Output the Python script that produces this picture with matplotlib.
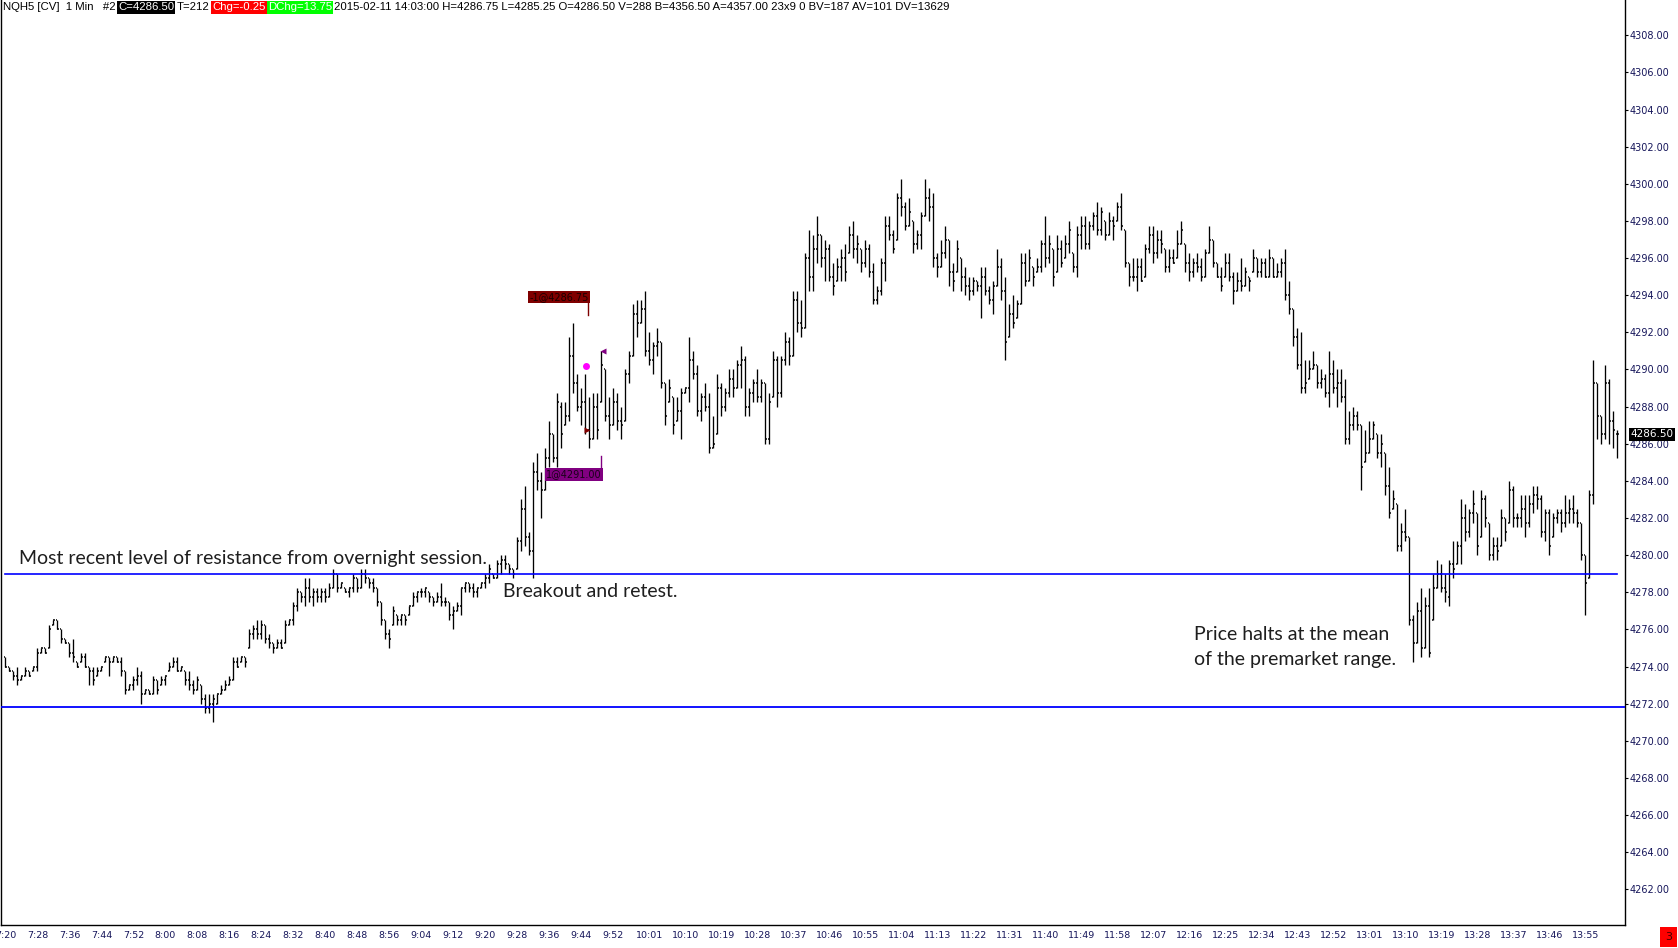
import matplotlib

matplotlib.use("Agg")
import matplotlib.pyplot as plt  # noqa: E402
import matplotlib.transforms as mtransforms  # noqa: E402
import numpy as np  # noqa: E402
from matplotlib import font_manager as fm  # noqa: E402
from matplotlib.collections import LineCollection  # noqa: E402

# ---------------------------------------------------------------- data
# NQH5 1-minute bars, 7:20 .. 14:03 (one bar per minute)
highs = [
    4274.5, 4274.0, 4273.75, 4274.0, 4273.5, 4274.0, 4273.75, 4274.0, 4275.0, 4275.0,
    4275.0, 4276.25, 4276.5, 4276.5, 4276.0, 4275.5, 4275.25, 4275.5, 4274.25, 4274.75,
    4274.75, 4274.0, 4274.0, 4274.0, 4274.0, 4274.5, 4274.5, 4274.5, 4274.5, 4274.5,
    4273.75, 4273.0, 4273.5, 4274.0, 4273.75, 4272.75, 4272.75, 4273.5, 4273.25, 4273.5,
    4273.5, 4274.25, 4274.5, 4274.5, 4274.0, 4273.75, 4273.75, 4273.25, 4273.5, 4273.0,
    4272.5, 4272.5, 4272.5, 4272.5, 4273.0, 4273.25, 4273.5, 4274.5, 4274.5, 4274.5,
    4274.5, 4276.0, 4276.25, 4276.5, 4276.5, 4276.25, 4275.75, 4275.25, 4275.5, 4275.5,
    4276.5, 4276.5, 4277.5, 4278.25, 4278.0, 4278.75, 4278.75, 4278.25, 4278.25, 4278.25,
    4278.25, 4278.5, 4279.25, 4279.0, 4278.5, 4278.25, 4278.25, 4279.0, 4278.75, 4279.25,
    4279.25, 4278.75, 4278.75, 4278.25, 4277.5, 4276.5, 4276.0, 4277.25, 4276.75, 4276.75,
    4276.75, 4277.25, 4278.0, 4278.0, 4278.25, 4278.25, 4278.0, 4277.75, 4278.0, 4278.5,
    4277.75, 4277.5, 4277.25, 4277.5, 4278.25, 4278.5, 4278.5, 4278.5, 4278.25, 4278.5,
    4279.0, 4279.5, 4279.0, 4279.75, 4280.0, 4280.0, 4279.5, 4279.25, 4281.0, 4283.0,
    4283.75, 4281.25, 4285.0, 4285.5, 4284.5, 4285.75, 4287.25, 4286.5, 4288.75, 4288.25,
    4288.25, 4291.75, 4292.5, 4289.75, 4289.0, 4289.75, 4288.5, 4288.75, 4288.75, 4291.0,
    4290.0, 4288.5, 4289.0, 4288.75, 4288.0, 4290.0, 4291.0, 4293.5, 4293.75, 4293.75,
    4294.25, 4292.0, 4291.5, 4292.25, 4291.5, 4289.25, 4289.5, 4288.5, 4288.5, 4289.0,
    4289.0, 4291.75, 4291.0, 4290.25, 4288.75, 4289.25, 4288.75, 4287.5, 4289.75, 4289.25,
    4289.0, 4290.0, 4290.0, 4290.5, 4291.25, 4290.75, 4289.0, 4289.5, 4290.0, 4289.5,
    4289.25, 4288.75, 4291.0, 4290.75, 4290.75, 4292.0, 4291.75, 4294.25, 4294.25, 4293.75,
    4296.25, 4297.5, 4297.25, 4298.25, 4297.25, 4297.0, 4296.75, 4295.75, 4296.0, 4296.5,
    4296.75, 4297.75, 4298.0, 4297.25, 4296.5, 4297.0, 4296.75, 4295.75, 4294.5, 4296.0,
    4298.25, 4298.25, 4297.5, 4299.5, 4300.25, 4299.0, 4299.25, 4298.0, 4297.5, 4298.5,
    4300.25, 4299.75, 4299.5, 4296.25, 4297.0, 4297.75, 4297.0, 4295.75, 4297.0, 4296.0,
    4295.5, 4295.0, 4295.0, 4294.75, 4295.5, 4295.5, 4294.5, 4294.75, 4296.5, 4296.0,
    4295.0, 4293.5, 4294.0, 4293.75, 4296.25, 4296.25, 4296.5, 4295.5, 4296.0, 4297.0,
    4298.25, 4297.25, 4296.5, 4297.25, 4297.0, 4297.25, 4298.0, 4296.25, 4297.75, 4298.25,
    4298.25, 4298.0, 4298.5, 4299.0, 4298.75, 4298.0, 4298.5, 4298.25, 4299.0, 4299.5,
    4297.5, 4295.75, 4296.0, 4296.0, 4296.0, 4296.75, 4297.75, 4297.75, 4297.5, 4297.5,
    4296.5, 4296.5, 4296.5, 4297.5, 4298.0, 4296.75, 4296.25, 4296.0, 4296.25, 4296.0,
    4296.5, 4297.75, 4297.0, 4295.75, 4295.5, 4296.25, 4296.25, 4295.25, 4295.25, 4296.0,
    4295.5, 4295.0, 4296.5, 4296.0, 4296.0, 4296.0, 4296.5, 4296.0, 4295.75, 4296.0,
    4296.5, 4294.75, 4293.25, 4292.25, 4292.0, 4290.5, 4290.5, 4291.0, 4290.25, 4290.0,
    4289.75, 4291.0, 4290.5, 4290.0, 4290.0, 4289.5, 4287.75, 4288.0, 4287.75, 4287.0,
    4286.75, 4287.25, 4287.25, 4286.5, 4286.5, 4285.5, 4284.75, 4283.5, 4282.75, 4281.75,
    4282.5, 4281.0, 4276.75, 4277.5, 4278.25, 4277.75, 4278.25, 4279.0, 4279.75, 4279.5,
    4279.0, 4279.75, 4280.75, 4280.75, 4283.0, 4282.75, 4282.5, 4283.5, 4282.25, 4283.5,
    4283.25, 4281.75, 4281.0, 4281.0, 4282.5, 4282.0, 4284.0, 4283.75, 4282.25, 4283.25,
    4283.25, 4283.25, 4283.75, 4283.75, 4283.25, 4282.5, 4282.5, 4282.25, 4282.5, 4282.5,
    4283.25, 4283.0, 4283.25, 4282.5, 4281.75, 4280.0, 4283.5, 4290.5, 4289.25, 4287.5,
    4290.25, 4289.5, 4287.75, 4286.75,
]
lows = [
    4274.0, 4273.75, 4273.25, 4273.0, 4273.25, 4273.5, 4273.5, 4273.75, 4273.75, 4274.75,
    4274.75, 4275.0, 4276.25, 4276.0, 4275.25, 4275.25, 4274.5, 4274.25, 4274.0, 4274.25,
    4274.0, 4273.0, 4273.0, 4273.5, 4273.75, 4274.25, 4273.5, 4274.25, 4274.25, 4273.5,
    4272.5, 4272.75, 4272.75, 4273.0, 4272.0, 4272.5, 4272.5, 4272.5, 4272.5, 4273.0,
    4273.0, 4273.75, 4274.0, 4273.75, 4273.75, 4273.0, 4272.75, 4272.5, 4272.75, 4272.0,
    4271.5, 4271.5, 4271.0, 4272.0, 4272.5, 4272.75, 4273.0, 4273.25, 4274.0, 4274.25,
    4274.0, 4275.0, 4275.5, 4275.5, 4275.5, 4275.25, 4275.0, 4274.75, 4275.0, 4275.0,
    4275.25, 4276.25, 4276.25, 4277.0, 4277.5, 4277.25, 4277.5, 4277.25, 4277.5, 4277.5,
    4277.5, 4277.75, 4278.25, 4278.0, 4278.25, 4278.0, 4277.75, 4278.0, 4278.0, 4278.25,
    4278.5, 4278.25, 4278.0, 4277.25, 4276.25, 4275.5, 4275.0, 4276.25, 4276.25, 4276.25,
    4276.25, 4276.75, 4277.25, 4277.5, 4277.75, 4277.75, 4277.5, 4277.25, 4277.5, 4277.25,
    4277.25, 4276.5, 4276.0, 4277.0, 4276.75, 4278.0, 4278.0, 4277.75, 4277.75, 4278.25,
    4278.25, 4278.5, 4278.75, 4278.75, 4279.0, 4279.25, 4279.0, 4278.75, 4279.25, 4280.25,
    4280.5, 4280.0, 4278.75, 4283.5, 4282.0, 4283.5, 4284.75, 4285.0, 4284.75, 4285.75,
    4287.0, 4287.25, 4288.75, 4287.75, 4287.0, 4286.5, 4285.75, 4286.25, 4286.25, 4288.25,
    4287.25, 4286.25, 4287.0, 4286.75, 4286.25, 4287.25, 4289.25, 4290.75, 4291.75, 4292.5,
    4290.75, 4290.25, 4289.75, 4290.75, 4289.0, 4287.0, 4288.25, 4286.5, 4287.25, 4286.25,
    4288.75, 4288.25, 4289.5, 4287.5, 4287.25, 4287.75, 4285.5, 4285.75, 4286.5, 4287.5,
    4287.75, 4288.5, 4288.5, 4289.0, 4289.0, 4287.5, 4287.5, 4288.25, 4288.25, 4288.25,
    4286.0, 4286.0, 4288.5, 4288.0, 4288.5, 4290.25, 4290.25, 4290.75, 4292.0, 4291.75,
    4292.25, 4294.25, 4294.25, 4295.75, 4295.5, 4294.75, 4294.75, 4294.0, 4294.75, 4294.75,
    4294.75, 4296.25, 4296.0, 4295.75, 4295.25, 4295.5, 4295.0, 4293.5, 4293.5, 4294.0,
    4294.75, 4297.0, 4296.25, 4297.0, 4298.25, 4297.5, 4297.75, 4296.25, 4296.5, 4296.5,
    4298.25, 4298.0, 4295.5, 4295.0, 4295.5, 4296.0, 4294.5, 4294.25, 4295.25, 4294.25,
    4294.0, 4293.75, 4294.0, 4294.25, 4292.75, 4294.0, 4293.5, 4293.0, 4294.5, 4293.75,
    4290.5, 4291.75, 4292.25, 4292.75, 4293.5, 4294.5, 4294.75, 4294.5, 4295.25, 4295.25,
    4295.5, 4295.75, 4294.5, 4295.25, 4295.5, 4296.0, 4296.25, 4295.25, 4295.0, 4296.5,
    4296.5, 4296.5, 4297.5, 4297.25, 4297.25, 4297.0, 4297.25, 4297.0, 4298.0, 4297.5,
    4295.5, 4294.5, 4294.75, 4294.25, 4294.75, 4295.0, 4296.25, 4295.75, 4296.0, 4296.25,
    4295.25, 4295.25, 4295.75, 4296.0, 4296.75, 4295.25, 4294.75, 4295.0, 4295.25, 4294.75,
    4295.0, 4296.25, 4295.5, 4295.0, 4294.25, 4295.0, 4294.75, 4293.5, 4294.25, 4294.25,
    4294.5, 4294.25, 4295.25, 4295.0, 4295.0, 4295.0, 4295.0, 4295.0, 4295.0, 4295.0,
    4293.75, 4293.0, 4291.25, 4290.0, 4288.75, 4288.75, 4289.5, 4290.0, 4289.0, 4289.0,
    4288.5, 4288.0, 4288.75, 4288.0, 4288.25, 4286.0, 4286.0, 4286.75, 4286.75, 4283.5,
    4285.0, 4285.5, 4286.25, 4285.25, 4284.75, 4283.25, 4282.0, 4282.5, 4280.25, 4280.25,
    4280.75, 4276.25, 4274.25, 4275.25, 4274.5, 4275.0, 4274.5, 4276.5, 4278.25, 4278.0,
    4277.5, 4277.25, 4278.75, 4279.5, 4279.5, 4280.75, 4281.0, 4281.75, 4280.0, 4281.0,
    4281.5, 4279.75, 4279.75, 4279.75, 4280.5, 4280.75, 4281.75, 4281.5, 4281.5, 4281.5,
    4281.0, 4281.5, 4282.25, 4282.5, 4281.0, 4280.75, 4280.0, 4281.0, 4281.75, 4281.25,
    4281.5, 4281.75, 4281.75, 4281.5, 4279.75, 4276.75, 4278.75, 4282.75, 4286.25, 4286.0,
    4286.25, 4286.0, 4285.75, 4285.25,
]
opens = [
    4274.5, 4274.0, 4273.75, 4273.5, 4273.25, 4273.5, 4273.75, 4273.75, 4274.0, 4274.75,
    4275.0, 4275.0, 4276.25, 4276.5, 4276.0, 4275.5, 4275.25, 4274.75, 4274.25, 4274.25,
    4274.5, 4274.0, 4273.75, 4273.5, 4273.75, 4274.25, 4274.5, 4274.25, 4274.5, 4274.25,
    4273.75, 4272.75, 4273.0, 4273.25, 4273.5, 4272.5, 4272.75, 4272.5, 4273.25, 4273.0,
    4273.25, 4273.75, 4274.0, 4274.25, 4273.75, 4273.75, 4273.25, 4273.0, 4272.75, 4273.0,
    4272.25, 4271.75, 4272.0, 4272.0, 4272.5, 4272.75, 4273.0, 4273.25, 4274.25, 4274.25,
    4274.5, 4275.0, 4275.75, 4276.0, 4275.75, 4276.25, 4275.5, 4275.25, 4275.0, 4275.25,
    4275.25, 4276.25, 4276.5, 4277.25, 4278.0, 4277.75, 4278.25, 4277.75, 4278.0, 4277.75,
    4278.0, 4277.75, 4278.25, 4279.0, 4278.25, 4278.25, 4278.0, 4278.25, 4278.75, 4278.25,
    4279.0, 4278.75, 4278.5, 4278.25, 4277.5, 4276.5, 4275.75, 4276.25, 4276.75, 4276.5,
    4276.75, 4276.75, 4277.25, 4277.75, 4278.0, 4278.0, 4278.0, 4277.75, 4277.5, 4277.75,
    4277.5, 4277.5, 4276.75, 4277.0, 4277.25, 4278.25, 4278.5, 4278.25, 4278.0, 4278.25,
    4278.5, 4278.75, 4279.0, 4278.75, 4279.5, 4279.75, 4279.5, 4279.25, 4279.25, 4280.75,
    4282.5, 4281.0, 4280.25, 4284.5, 4284.0, 4283.5, 4285.25, 4286.5, 4285.25, 4288.0,
    4287.0, 4287.5, 4290.75, 4289.25, 4288.0, 4288.25, 4286.75, 4286.25, 4288.0, 4288.25,
    4290.0, 4287.5, 4287.0, 4288.25, 4287.25, 4287.25, 4289.75, 4290.75, 4293.0, 4292.5,
    4293.25, 4291.0, 4290.5, 4291.25, 4291.5, 4289.25, 4288.25, 4288.5, 4287.25, 4287.75,
    4288.75, 4289.0, 4290.5, 4289.75, 4287.75, 4288.5, 4288.0, 4285.75, 4286.5, 4289.0,
    4288.0, 4288.75, 4289.5, 4289.0, 4290.25, 4290.5, 4288.0, 4288.75, 4289.25, 4288.5,
    4289.25, 4286.25, 4288.5, 4290.5, 4288.75, 4290.5, 4291.5, 4290.75, 4293.75, 4292.5,
    4292.25, 4296.0, 4295.0, 4296.5, 4297.25, 4296.0, 4296.5, 4295.0, 4294.75, 4295.5,
    4296.0, 4296.25, 4297.25, 4296.5, 4296.5, 4295.75, 4296.5, 4295.25, 4293.75, 4294.25,
    4295.75, 4297.75, 4297.25, 4297.0, 4299.25, 4298.75, 4297.75, 4298.0, 4296.75, 4297.25,
    4298.25, 4299.25, 4298.75, 4296.0, 4295.5, 4296.25, 4297.0, 4295.25, 4295.25, 4296.0,
    4295.0, 4294.5, 4294.25, 4294.75, 4294.5, 4295.0, 4294.25, 4293.75, 4294.5, 4295.5,
    4294.25, 4291.75, 4293.0, 4292.75, 4293.5, 4295.75, 4294.75, 4295.5, 4295.25, 4295.5,
    4296.75, 4296.0, 4296.5, 4295.25, 4296.5, 4296.0, 4296.75, 4296.25, 4295.5, 4297.25,
    4297.75, 4296.75, 4297.75, 4298.25, 4297.5, 4298.0, 4297.25, 4298.0, 4298.0, 4298.75,
    4297.5, 4295.75, 4295.0, 4295.0, 4295.5, 4295.0, 4296.5, 4297.25, 4296.25, 4297.0,
    4296.5, 4295.5, 4296.0, 4296.0, 4296.75, 4296.75, 4295.75, 4295.25, 4295.75, 4295.5,
    4295.0, 4296.25, 4297.0, 4295.75, 4295.0, 4295.0, 4295.75, 4295.0, 4294.25, 4294.75,
    4294.5, 4295.0, 4295.25, 4296.0, 4295.25, 4295.75, 4295.0, 4296.0, 4295.0, 4295.25,
    4295.75, 4294.0, 4293.25, 4291.75, 4290.25, 4289.0, 4289.5, 4290.0, 4290.25, 4289.25,
    4289.5, 4288.75, 4289.75, 4289.0, 4289.25, 4288.5, 4286.25, 4287.0, 4287.5, 4287.0,
    4285.0, 4285.5, 4286.25, 4286.5, 4285.5, 4285.5, 4283.75, 4282.5, 4282.75, 4280.5,
    4281.25, 4281.0, 4276.5, 4275.25, 4277.0, 4275.0, 4277.25, 4276.5, 4278.25, 4279.0,
    4278.25, 4277.75, 4279.5, 4279.5, 4280.5, 4282.0, 4281.25, 4282.25, 4282.25, 4281.0,
    4283.0, 4281.75, 4280.0, 4280.5, 4280.5, 4282.0, 4281.75, 4283.5, 4282.0, 4282.0,
    4282.5, 4281.75, 4282.75, 4283.25, 4283.0, 4281.25, 4282.25, 4281.0, 4282.0, 4282.25,
    4281.75, 4282.25, 4282.5, 4282.25, 4281.75, 4280.0, 4278.75, 4283.25, 4289.25, 4287.5,
    4286.5, 4289.25, 4287.25, 4286.5,
]
closes = [
    4274.0, 4273.75, 4273.5, 4273.25, 4273.5, 4273.75, 4273.5, 4274.0, 4274.75, 4275.0,
    4274.75, 4276.0, 4276.5, 4276.0, 4275.5, 4275.25, 4274.75, 4274.5, 4274.0, 4274.5,
    4274.0, 4273.75, 4273.25, 4273.75, 4274.0, 4274.5, 4274.25, 4274.5, 4274.25, 4273.75,
    4272.75, 4273.0, 4273.25, 4273.5, 4272.5, 4272.75, 4272.5, 4273.25, 4272.75, 4273.25,
    4273.5, 4274.0, 4274.25, 4273.75, 4274.0, 4273.25, 4273.0, 4272.75, 4273.25, 4272.25,
    4271.75, 4272.0, 4272.25, 4272.5, 4272.75, 4273.0, 4273.25, 4274.25, 4274.0, 4274.5,
    4274.25, 4275.75, 4276.0, 4275.75, 4276.25, 4275.5, 4275.25, 4275.0, 4275.25, 4275.0,
    4276.25, 4276.5, 4277.25, 4278.0, 4277.75, 4278.25, 4277.75, 4278.0, 4277.75, 4278.0,
    4277.75, 4278.25, 4279.0, 4278.25, 4278.5, 4278.0, 4278.25, 4278.75, 4278.25, 4279.0,
    4278.75, 4278.5, 4278.25, 4277.5, 4276.5, 4275.75, 4275.5, 4277.0, 4276.5, 4276.75,
    4276.5, 4277.25, 4277.75, 4278.0, 4278.0, 4278.25, 4277.75, 4277.5, 4277.75, 4277.5,
    4277.5, 4276.75, 4277.0, 4277.25, 4278.25, 4278.5, 4278.25, 4278.0, 4278.25, 4278.5,
    4278.75, 4279.25, 4278.75, 4279.5, 4279.75, 4279.5, 4279.25, 4279.0, 4280.75, 4282.5,
    4281.0, 4280.25, 4284.5, 4284.0, 4283.5, 4285.25, 4286.5, 4285.25, 4288.25, 4286.5,
    4287.5, 4290.75, 4289.25, 4288.0, 4288.25, 4286.75, 4286.25, 4288.0, 4286.75, 4290.25,
    4287.5, 4287.0, 4288.25, 4287.25, 4287.0, 4289.75, 4290.75, 4293.0, 4292.5, 4293.25,
    4291.0, 4290.5, 4291.25, 4291.5, 4289.25, 4287.5, 4289.0, 4287.0, 4287.75, 4288.75,
    4289.0, 4290.5, 4289.75, 4287.75, 4288.5, 4288.0, 4285.75, 4286.0, 4289.0, 4288.0,
    4288.75, 4289.5, 4289.0, 4290.25, 4290.5, 4288.0, 4288.75, 4289.25, 4288.5, 4289.25,
    4286.25, 4288.25, 4290.5, 4288.75, 4290.5, 4291.5, 4290.75, 4293.75, 4292.5, 4292.25,
    4296.0, 4295.0, 4296.5, 4297.25, 4296.0, 4296.5, 4295.0, 4294.5, 4295.5, 4296.0,
    4295.25, 4297.25, 4296.5, 4296.75, 4295.75, 4296.5, 4295.25, 4293.75, 4294.25, 4295.75,
    4297.75, 4297.25, 4296.5, 4299.25, 4298.75, 4297.75, 4298.5, 4296.75, 4297.25, 4298.25,
    4299.25, 4298.75, 4296.0, 4295.5, 4296.25, 4297.0, 4295.25, 4294.75, 4296.5, 4295.0,
    4294.5, 4294.25, 4294.75, 4294.5, 4295.0, 4294.25, 4293.75, 4294.5, 4295.5, 4294.25,
    4291.5, 4293.0, 4292.5, 4293.5, 4295.75, 4294.75, 4296.0, 4295.0, 4295.5, 4296.75,
    4296.0, 4296.75, 4295.0, 4296.5, 4295.75, 4296.75, 4297.5, 4295.5, 4297.25, 4297.75,
    4296.75, 4297.75, 4298.25, 4297.5, 4298.5, 4297.25, 4298.0, 4297.75, 4298.75, 4297.75,
    4295.75, 4295.0, 4295.0, 4295.5, 4294.75, 4296.5, 4297.25, 4296.25, 4297.0, 4296.75,
    4295.5, 4296.0, 4295.75, 4296.75, 4297.5, 4295.75, 4295.25, 4295.75, 4295.5, 4295.0,
    4296.25, 4297.0, 4295.75, 4295.0, 4294.5, 4295.75, 4295.0, 4294.25, 4294.75, 4294.5,
    4295.25, 4294.75, 4296.0, 4295.25, 4295.75, 4295.0, 4296.0, 4295.0, 4295.25, 4295.75,
    4294.0, 4293.25, 4291.75, 4290.25, 4289.0, 4289.25, 4290.0, 4290.25, 4289.25, 4289.5,
    4288.75, 4289.75, 4289.0, 4289.25, 4288.5, 4286.25, 4287.0, 4287.5, 4287.0, 4284.75,
    4285.5, 4286.25, 4287.0, 4285.5, 4286.0, 4283.75, 4282.25, 4283.0, 4280.5, 4281.25,
    4281.0, 4276.5, 4275.25, 4277.0, 4275.0, 4277.25, 4274.75, 4278.25, 4279.0, 4278.25,
    4278.0, 4279.5, 4279.25, 4280.5, 4282.0, 4281.25, 4282.25, 4282.75, 4280.5, 4283.0,
    4282.0, 4280.0, 4280.5, 4280.25, 4282.0, 4281.25, 4283.5, 4282.0, 4282.0, 4282.5,
    4281.75, 4282.75, 4283.25, 4283.0, 4281.25, 4282.25, 4280.5, 4282.0, 4282.25, 4281.75,
    4282.25, 4282.5, 4282.25, 4281.75, 4280.0, 4278.5, 4283.25, 4289.25, 4287.5, 4286.5,
    4289.25, 4287.25, 4286.75, 4286.5,
]
first_minute = 7 * 60 + 20
tick_labels = ["7:20", "7:28", "7:36", "7:44", "7:52", "8:00", "8:08", "8:16", "8:24",
               "8:32", "8:40", "8:48", "8:56", "9:04", "9:12", "9:20", "9:28", "9:36",
               "9:44", "9:52", "10:01", "10:10", "10:19", "10:28", "10:37", "10:46",
               "10:55", "11:04", "11:13", "11:22", "11:31", "11:40", "11:49", "11:58",
               "12:07", "12:16", "12:25", "12:34", "12:43", "12:52", "13:01", "13:10",
               "13:19", "13:28", "13:37", "13:46", "13:55"]
price_ticks = list(range(4262, 4309, 2))
resistance = 4279.0
premarket_low = 4271.8
last_price = 4286.50
sell_fill = ("-1@4286.75", 145.3, 4286.75)
buy_fill = ("1@4291.00", 149.3, 4291.00)
mid_dot = (145.15, 4290.2)

header = [
    ("NQH5 [CV]  1 Min   #2", "black", None),
    ("C=4286.50", "white", "black"),
    ("T=212", "black", None),
    ("Chg=-0.25", "white", "#ff0000"),
    ("DChg=13.75", "white", "#00ff00"),
    ("2015-02-11 14:03:00 H=4286.75 L=4285.25 O=4286.50 V=288 B=4356.50 A=4357.00 "
     "23x9 0 BV=187 AV=101 DV=13629", "black", None),
]

# ---------------------------------------------------------------- figure
W, H = 1678, 948
NAVY = "#15155a"
BLUE = "#0000ff"
installed = {f.name for f in fm.fontManager.ttflist}
HDR_FONT = "Liberation Sans Narrow" if "Liberation Sans Narrow" in installed else "Liberation Sans"
NOTE_FONT = "Lato" if "Lato" in installed else "DejaVu Sans"

fig = plt.figure(figsize=(W / 100, H / 100), dpi=100)
fig.patch.set_facecolor("white")
ax = fig.add_axes([1 / W, 23 / H, 1624 / W, 925 / H])
ax.set_xlim(-1.1, 404.9)
ax.set_ylim(4260.08, 4309.90)

x = np.arange(len(highs))
bars = [[(i, lo), (i, hi)] for i, hi, lo in zip(x, highs, lows)]
oticks = [[(i - 0.4, o), (i, o)] for i, o in zip(x, opens)]
cticks = [[(i, c), (i + 0.4, c)] for i, c in zip(x, closes)]
ax.add_collection(LineCollection(bars, colors="black", linewidths=0.95, zorder=3))
ax.add_collection(LineCollection(oticks + cticks, colors="black", linewidths=1.1, zorder=3))

# support / resistance lines
ax.plot([x[0], x[-1]], [resistance, resistance], color=BLUE, lw=1.2, zorder=4)
ax.axhline(premarket_low, color=BLUE, lw=1.3, zorder=4)

# axes styling
ax.spines["top"].set_visible(False)
for side in ("left", "right", "bottom"):
    ax.spines[side].set_color("black")
    ax.spines[side].set_linewidth(1.0)
ax.yaxis.tick_right()
ax.set_yticks(price_ticks)
ax.set_yticklabels([f"{p:.2f}" for p in price_ticks])
ax.tick_params(axis="y", direction="out", length=2, width=0.8, pad=1.5,
               labelsize=7, labelcolor=NAVY)
bar_times = [f"{(first_minute + i) // 60}:{(first_minute + i) % 60:02d}" for i in x]
ax.set_xticks([bar_times.index(t) for t in tick_labels])
ax.set_xticklabels(tick_labels)
ax.tick_params(axis="x", length=0, pad=4, labelsize=6.8, labelcolor=NAVY)

# trade markers
ax.plot(*mid_dot, "o", color="#ff00ff", ms=5, mec="none", zorder=6)
ax.plot(sell_fill[1], sell_fill[2], ">", color="#800000", ms=4.5, mec="none", zorder=6)
ax.plot(buy_fill[1], buy_fill[2], "<", color="#800080", ms=4.5, mec="none", zorder=6)
ax.text(145.9, 4293.92, sell_fill[0], ha="right", va="center", fontsize=7,
        color="#1a0000", zorder=7,
        bbox=dict(boxstyle="square,pad=0.12", fc="#7f0000", ec="none"))
ax.plot([145.7, 145.7], [4293.56, 4292.93], color="#7f0000", lw=1.0, zorder=6)
ax.text(149.1, 4284.35, buy_fill[0], ha="right", va="center", fontsize=7,
        color="#1a001a", zorder=7,
        bbox=dict(boxstyle="square,pad=0.12", fc="#800080", ec="none"))
ax.plot([148.8, 148.8], [4284.68, 4285.34], color="#800080", lw=1.0, zorder=6)

# last price flag on the scale
trans = mtransforms.blended_transform_factory(ax.transAxes, ax.transData)
ax.text(1.0035, last_price, f"{last_price:.2f}", transform=trans, ha="left", va="center",
        fontsize=7.5, color="white", clip_on=False, zorder=10,
        bbox=dict(boxstyle="square,pad=0.12", fc="black", ec="none"))

# notes
r = fig.canvas.get_renderer()
t1 = ax.text(3.3, 4279.52, "Most recent level of resistance from overnight session.",
             ha="left", va="baseline", fontsize=14, family=NOTE_FONT, color="#1e1e1e",
             zorder=8)
fs = 14 * 471 / t1.get_window_extent(r).width
t1.set_fontsize(fs)
ax.text(124.4, 4277.74, "Breakout and retest.", ha="left", va="baseline", fontsize=fs,
        family=NOTE_FONT, color="#1e1e1e", zorder=8)
ax.text(297.25, 4275.43, "Price halts at the mean", ha="left", va="baseline",
        fontsize=fs, family=NOTE_FONT, color="#1e1e1e", zorder=8)
ax.text(297.25, 4274.08, "of the premarket range.", ha="left", va="baseline",
        fontsize=fs, family=NOTE_FONT, color="#1e1e1e", zorder=8)

# header strip
hs = 8.0
pieces = []
for s, fg, bg in header:
    kw = {}
    if bg:
        kw["bbox"] = dict(boxstyle="square,pad=0.1", fc=bg, ec="none")
    pieces.append(fig.text(0, 1 - 7.5 / H, s, color=fg, fontsize=hs, family=HDR_FONT,
                           ha="left", va="center", **kw))
total = sum(p.get_window_extent(r).width for p in pieces)
scale = (952 - 2.5 * (len(pieces) - 1)) / total
xpos = 3.0
for p in pieces:
    p.set_fontsize(hs * scale)
    p.set_x(xpos / W)
    xpos += p.get_window_extent(r).width + 2.5

# corner flag
fig.text(1668.5 / W, 1 - 936.5 / H, "3", ha="center", va="center", fontsize=8,
         color="#400000", bbox=dict(boxstyle="square,pad=0.45", fc="#ff0000", ec="none"))

fig.savefig("out.png", dpi=100, facecolor="white")
